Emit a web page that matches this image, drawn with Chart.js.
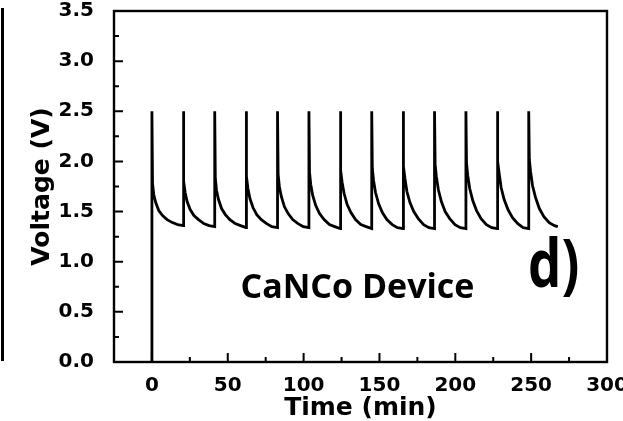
<!DOCTYPE html>
<html>
<head>
<meta charset="utf-8">
<script src="https://cdn.jsdelivr.net/npm/chart.js@4.4.1/dist/chart.umd.min.js"></script>
<style>
  html, body { margin: 0; padding: 0; background: #fff; overflow: hidden; }
  #wrap { position: relative; width: 623px; height: 421px; }
  /* edge of the neighbouring panel */
  #edge { position: absolute; left: 1px; top: 8px; width: 3px; height: 353px; background: #000; }
</style>
</head>
<body>
<div id="wrap">
  <canvas id="chart" width="623" height="421"></canvas>
  <div id="edge"></div>
</div>
<script>
// start of each charge pulse (min)
const pulseTimes = [0, 20.7, 41.4, 62.1, 82.8, 103.5, 124.2, 144.9, 165.6, 186.3, 207.0, 227.7, 248.4];
const endTime = 267.6;
// minutes after a pulse at which the voltage is read
const decayOffsets = [0, 0.4, 1.2, 2.5, 4.5, 7, 10, 13.5, 17, 20.7];
// voltage (V) per cycle at those offsets
const cycleVolts = [
  [2.5, 1.78, 1.67, 1.59, 1.51, 1.46, 1.42, 1.39, 1.37, 1.36],
  [2.5, 1.80, 1.69, 1.60, 1.52, 1.46, 1.42, 1.38, 1.36, 1.35],
  [2.5, 1.83, 1.71, 1.62, 1.53, 1.47, 1.42, 1.38, 1.36, 1.34],
  [2.5, 1.85, 1.73, 1.63, 1.54, 1.47, 1.42, 1.38, 1.35, 1.34],
  [2.5, 1.87, 1.75, 1.65, 1.55, 1.48, 1.42, 1.38, 1.35, 1.34],
  [2.5, 1.89, 1.77, 1.66, 1.56, 1.48, 1.42, 1.37, 1.35, 1.33],
  [2.5, 1.91, 1.79, 1.68, 1.57, 1.49, 1.42, 1.37, 1.35, 1.33],
  [2.5, 1.93, 1.81, 1.69, 1.58, 1.49, 1.42, 1.37, 1.34, 1.33],
  [2.5, 1.95, 1.83, 1.70, 1.59, 1.50, 1.43, 1.37, 1.34, 1.33],
  [2.5, 1.97, 1.85, 1.72, 1.60, 1.50, 1.43, 1.37, 1.34, 1.33],
  [2.5, 1.98, 1.86, 1.73, 1.61, 1.51, 1.43, 1.37, 1.34, 1.33],
  [2.5, 2.00, 1.88, 1.74, 1.62, 1.52, 1.44, 1.38, 1.34, 1.33],
  [2.5, 2.02, 1.90, 1.76, 1.64, 1.53, 1.45, 1.39, 1.36, 1.35]
];
// tick labels
const xTicks = [0, 50, 100, 150, 200, 250, 300];
const yTicks = [0, 0.5, 1.0, 1.5, 2.0, 2.5, 3.0, 3.5];

// build the trace: start at 0 V, then each pulse + decay
const points = [{x: 0, y: 0}];
pulseTimes.forEach((t0, i) => {
  decayOffsets.forEach((dt, j) => {
    points.push({x: Math.min(t0 + dt, endTime), y: cycleVolts[i][j]});
  });
});

const tickFont = {family: 'DejaVu Sans', weight: 'bold', size: 20};
const titleFont = {family: 'DejaVu Sans', weight: 'bold', size: 25};

// box frame, inward ticks and the labels inside the plot
const framePlugin = {
  id: 'frame',
  afterDraw(chart) {
    const {ctx, chartArea: a, scales: {x, y}} = chart;
    ctx.save();
    ctx.strokeStyle = '#000';
    ctx.lineWidth = 2.4;
    ctx.strokeRect(a.left, a.top, a.right - a.left, a.bottom - a.top);

    ctx.lineWidth = 2;
    ctx.beginPath();
    xTicks.forEach((v, i) => {
      const px = x.getPixelForValue(v);
      ctx.moveTo(px, a.bottom); ctx.lineTo(px, a.bottom - 9);
      if (i < xTicks.length - 1) {
        const mx = x.getPixelForValue(v + 25);
        ctx.moveTo(mx, a.bottom); ctx.lineTo(mx, a.bottom - 5);
      }
    });
    yTicks.forEach((v, i) => {
      const py = y.getPixelForValue(v);
      ctx.moveTo(a.left, py); ctx.lineTo(a.left + 9, py);
      if (i < yTicks.length - 1) {
        const my = y.getPixelForValue(v + 0.25);
        ctx.moveTo(a.left, my); ctx.lineTo(a.left + 5, my);
      }
    });
    ctx.stroke();

    ctx.fillStyle = '#000';
    ctx.textBaseline = 'alphabetic';
    ctx.textAlign = 'center';
    ctx.font = 'bold 34px "Open Sans"';
    ctx.fillText('CaNCo Device', x.getPixelForValue(135.5), y.getPixelForValue(0.64));

    ctx.textAlign = 'left';
    ctx.translate(x.getPixelForValue(248), y.getPixelForValue(0.75));
    ctx.scale(0.8, 1);
    ctx.font = 'bold 66px "Open Sans"';
    ctx.fillText('d)', 0, 0);
    ctx.restore();
  }
};

new Chart(document.getElementById('chart'), {
  type: 'line',
  data: {
    datasets: [{
      data: points,
      borderColor: '#000',
      borderWidth: 2.8,
      pointRadius: 0,
      tension: 0,
      fill: false
    }]
  },
  options: {
    responsive: false,
    animation: false,
    layout: {padding: {top: 11, right: 16, left: 0, bottom: 0}},
    plugins: {legend: {display: false}, tooltip: {enabled: false}},
    scales: {
      x: {
        type: 'linear',
        min: -25,
        max: 300,
        afterBuildTicks: s => { s.ticks = xTicks.map(v => ({value: v})); },
        afterFit: s => { s.height = 59; s.paddingLeft = 0; s.paddingRight = 0; },
        grid: {display: false},
        border: {display: false},
        ticks: {color: '#000', font: tickFont, padding: 4, maxRotation: 0, autoSkip: false,
                callback: v => String(v)},
        title: {display: true, text: 'Time (min)', color: '#000', font: titleFont,
                padding: {top: 0, bottom: -2}}
      },
      y: {
        min: 0,
        max: 3.5,
        afterBuildTicks: s => { s.ticks = yTicks.map(v => ({value: v})); },
        afterFit: s => { s.width = 114; s.paddingTop = 0; s.paddingBottom = 0; },
        grid: {display: false},
        border: {display: false},
        ticks: {color: '#000', font: tickFont, padding: 12, autoSkip: false,
                callback: v => v.toFixed(1)},
        title: {display: true, text: 'Voltage (V)', color: '#000', font: titleFont,
                padding: {top: 27, bottom: 0}}
      }
    }
  },
  plugins: [framePlugin]
});
</script>
</body>
</html>
